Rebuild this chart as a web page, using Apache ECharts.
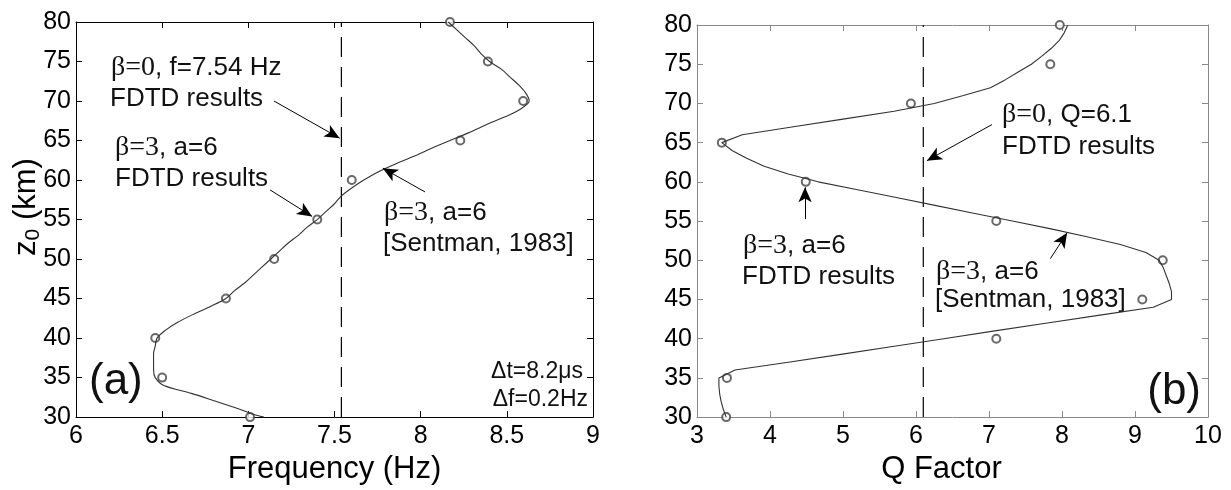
<!DOCTYPE html>
<html>
<head>
<meta charset="utf-8">
<script src="https://cdn.jsdelivr.net/npm/echarts@6/dist/echarts.min.js"></script>
<style>html,body{margin:0;padding:0;background:#fff;}#chart{width:1231px;height:490px;}</style>
</head>
<body>
<div id="chart"></div>
<script>
// ---- Panel (a): resonance frequency vs z0 ----
const fdtdZ_a = [30, 35, 40, 45, 50, 55, 60, 65, 70, 75, 80];
const fdtdF_a = [7.01, 6.50, 6.46, 6.87, 7.15, 7.40, 7.60, 8.23, 8.595, 8.39, 8.17];
const sentZ_a = [30, 30.5, 31, 32, 33, 34, 35, 36, 37, 38, 39, 40, 41, 42, 43, 44, 45, 46, 47, 48, 49, 50, 51, 52, 53, 54, 55, 56, 57, 58, 59, 60, 61, 62, 63, 64, 65, 66, 67, 68, 69, 70, 71, 72, 73, 74, 75, 76, 77, 78, 79, 80];
const sentF_a = [7.09, 7.01, 6.95, 6.81, 6.67, 6.51, 6.46, 6.45, 6.45, 6.45, 6.46, 6.47, 6.52, 6.59, 6.68, 6.78, 6.87, 6.92, 6.98, 7.03, 7.08, 7.13, 7.18, 7.23, 7.29, 7.34, 7.40, 7.45, 7.50, 7.54, 7.60, 7.67, 7.75, 7.85, 7.96, 8.06, 8.17, 8.28, 8.38, 8.49, 8.58, 8.63, 8.61, 8.57, 8.52, 8.47, 8.40, 8.35, 8.31, 8.26, 8.21, 8.16];
const refF_a = 7.54;

// ---- Panel (b): Q factor vs z0 ----
const fdtdZ_b = [30, 35, 40, 45, 50, 55, 60, 65, 70, 75, 80];
const fdtdQ_b = [3.40, 3.41, 7.10, 9.10, 9.38, 7.10, 4.49, 3.34, 5.93, 7.84, 7.97];
const sentZ_b = [30, 31, 32, 33, 34, 35, 36, 37, 38, 39, 40, 41, 42, 43, 44, 45, 46, 47, 48, 49, 50, 51, 52, 53, 54, 55, 56, 57, 58, 59, 60, 61, 62, 63, 64, 65, 66, 67, 68, 69, 70, 71, 72, 73, 74, 75, 76, 77, 78, 79, 80];
const sentQ_b = [3.40, 3.36, 3.33, 3.31, 3.30, 3.30, 3.52, 4.25, 4.97, 5.68, 6.38, 7.08, 7.80, 8.52, 9.25, 9.50, 9.50, 9.47, 9.43, 9.39, 9.33, 9.15, 8.80, 8.34, 7.85, 7.32, 6.79, 6.26, 5.73, 5.20, 4.66, 4.25, 3.92, 3.68, 3.48, 3.34, 3.62, 4.30, 5.00, 5.70, 6.25, 6.65, 7.02, 7.22, 7.40, 7.58, 7.72, 7.85, 7.96, 8.03, 8.08];
const refQ_b = 6.1;

const xTicksA = {min: 6, max: 9, interval: 0.5};
const xTicksB = {min: 3, max: 10, interval: 1};
const yTicks = {min: 30, max: 80, interval: 5};

// arrows [startX, startZ, tipX, tipZ] in data units
const arrowsA = [[7.149, 70.0, 7.53, 65.3], [7.126, 58.75, 7.37, 55.4], [8.025, 58.5, 7.78, 61.5]];
const arrowsB = [[7.04, 67.3, 6.15, 62.7], [4.48, 55.25, 4.48, 59.3], [7.84, 50.2, 8.07, 53.5]];

const pairs = (xs, ys) => xs.map((x, i) => [x, ys[i]]);
const FONT = '"Liberation Sans", Arial, Helvetica, sans-serif';
const SERIF = '"Liberation Serif", "Times New Roman", serif';

function xAx(grid, t, pos, color, name, pad) {
  return {
    type: 'value', gridIndex: grid, position: pos, min: t.min, max: t.max, interval: t.interval,
    axisLine: {show: true, onZero: false, lineStyle: {color: color, width: 1}},
    axisTick: {show: true, inside: true, length: 6, lineStyle: {color: color}},
    axisLabel: {show: pos === 'bottom', color: '#000', fontSize: 25, fontFamily: FONT, margin: 7},
    splitLine: {show: false},
    name: name || '', nameLocation: 'middle', nameGap: 31,
    nameTextStyle: {color: '#000', fontSize: 31, fontFamily: FONT, padding: pad || 0}
  };
}
function yAx(grid, t, pos, color) {
  return {
    type: 'value', gridIndex: grid, position: pos, min: t.min, max: t.max, interval: t.interval,
    axisLine: {show: true, onZero: false, lineStyle: {color: color, width: 1}},
    axisTick: {show: true, inside: true, length: 6, lineStyle: {color: color}},
    axisLabel: {show: pos === 'left', color: '#000', fontSize: 25, fontFamily: FONT, margin: 5},
    splitLine: {show: false}
  };
}
function arrowLines(arr) {
  return {
    silent: true, animation: false, symbol: ['none', 'arrow'], symbolSize: [10, 15],
    lineStyle: {color: '#000', width: 1, type: 'solid'},
    itemStyle: {color: '#000'},
    label: {show: false},
    data: arr.map(a => [{coord: [a[0], a[1]]}, {coord: [a[2], a[3]]}])
  };
}

const rich = {
  g: {fontFamily: SERIF, fontSize: 28, color: '#111'},
  n: {fontFamily: FONT, fontSize: 26, color: '#111'}
};
function txt(x, y, text, opts) {
  opts = opts || {};
  return {
    type: 'text', x: x, y: y, silent: true,
    style: Object.assign({
      text: text, fill: '#111', font: '26px ' + FONT,
      align: 'left', verticalAlign: 'middle', rich: rich
    }, opts)
  };
}

const option = {
  animation: false,
  backgroundColor: '#fff',
  grid: [
    {left: 76, top: 22, width: 517, height: 400},
    {left: 697, top: 25, width: 511, height: 398}
  ],
  xAxis: [
    xAx(0, xTicksA, 'bottom', '#000', 'Frequency (Hz)'),
    xAx(0, xTicksA, 'top', '#000'),
    xAx(1, xTicksB, 'bottom', '#888', 'Q Factor', [0, 22, 0, 0]),
    xAx(1, xTicksB, 'top', '#888')
  ],
  yAxis: [
    yAx(0, yTicks, 'left', '#000'),
    yAx(0, yTicks, 'right', '#000'),
    yAx(1, yTicks, 'left', '#888'),
    yAx(1, yTicks, 'right', '#888')
  ],
  series: [
    {type: 'line', xAxisIndex: 0, yAxisIndex: 0, data: [[refF_a, yTicks.min], [refF_a, yTicks.max]],
     showSymbol: false, lineStyle: {color: '#000', width: 1.2, type: [20, 10]}},
    {type: 'line', xAxisIndex: 0, yAxisIndex: 0, data: pairs(sentF_a, sentZ_a), smooth: 0.3,
     showSymbol: false, lineStyle: {color: '#333', width: 1.1}},
    {type: 'scatter', xAxisIndex: 0, yAxisIndex: 0, data: pairs(fdtdF_a, fdtdZ_a),
     symbol: 'emptyCircle', symbolSize: 8, itemStyle: {color: '#444', borderWidth: 1},
     markLine: arrowLines(arrowsA)},
    {type: 'line', xAxisIndex: 2, yAxisIndex: 2, data: [[refQ_b, yTicks.min], [refQ_b, yTicks.max]],
     showSymbol: false, lineStyle: {color: '#000', width: 1.2, type: [20, 10]}},
    {type: 'line', xAxisIndex: 2, yAxisIndex: 2, data: pairs(sentQ_b, sentZ_b), smooth: false,
     showSymbol: false, lineStyle: {color: '#333', width: 1.1}},
    {type: 'scatter', xAxisIndex: 2, yAxisIndex: 2, data: pairs(fdtdQ_b, fdtdZ_b),
     symbol: 'emptyCircle', symbolSize: 8, itemStyle: {color: '#444', borderWidth: 1},
     markLine: arrowLines(arrowsB)}
  ],
  graphic: [
    {type: 'text', x: 26, y: 207, rotation: Math.PI / 2, silent: true,
     style: {text: '{a|z}{s|0}{a| (km)}', align: 'center', verticalAlign: 'middle', fill: '#000',
       rich: {a: {fontSize: 31, fontFamily: FONT, lineHeight: 36, verticalAlign: 'middle'},
              s: {fontSize: 21, fontFamily: FONT, lineHeight: 18, verticalAlign: 'bottom'}}}},
    txt(111, 68, '{g|β=0}{n|, f=7.54 Hz}'),
    txt(110, 99, 'FDTD results'),
    txt(115, 148, '{g|β=3}{n|, a=6}'),
    txt(115, 179, 'FDTD results'),
    txt(384, 213, '{g|β=3}{n|, a=6}'),
    txt(383, 244, '[Sentman, 1983]'),
    txt(89, 382, '(a)', {font: '44px ' + FONT}),
    txt(583, 372, 'Δt=8.2μs', {font: '23px ' + FONT, align: 'right'}),
    txt(588, 400, 'Δf=0.2Hz', {font: '23px ' + FONT, align: 'right'}),
    txt(1002, 115, '{g|β=0}{n|, Q=6.1}'),
    txt(1002, 147, 'FDTD results'),
    txt(743, 246, '{g|β=3}{n|, a=6}'),
    txt(742, 277, 'FDTD results'),
    txt(936, 272, '{g|β=3}{n|, a=6}'),
    txt(935, 300, '[Sentman, 1983]'),
    txt(1201, 392, '(b)', {font: '44px ' + FONT, align: 'right'})
  ]
};

const chart = echarts.init(document.getElementById('chart'), null, {renderer: 'canvas'});
chart.setOption(option);
</script>
</body>
</html>
